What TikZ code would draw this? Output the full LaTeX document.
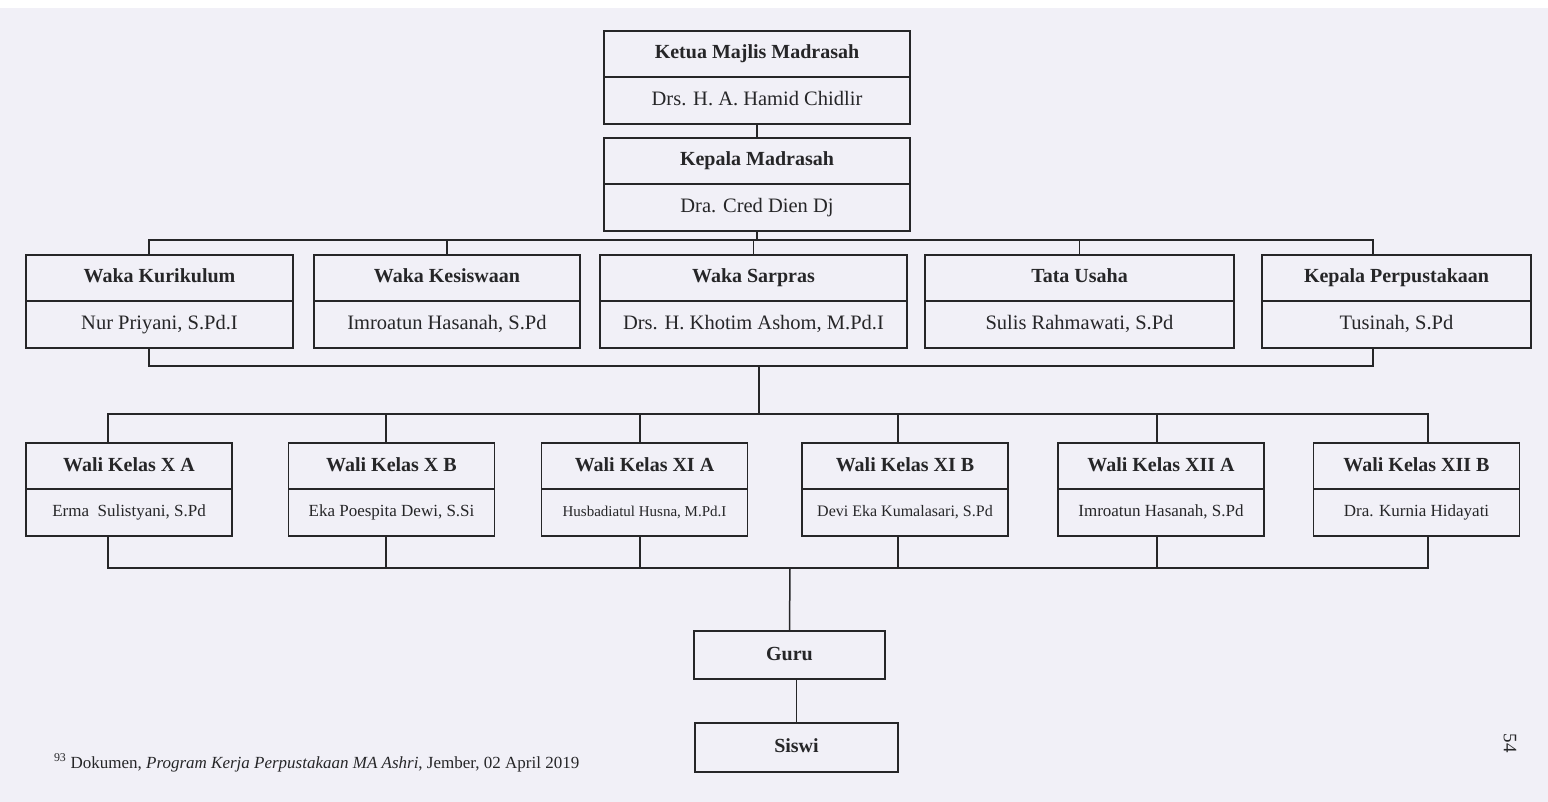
\documentclass[tikz,border=0pt]{standalone}
\usepackage{fontspec}
\setmainfont{Liberation Serif}
\usetikzlibrary{positioning}
\definecolor{paper}{RGB}{241,240,247}
\definecolor{ink}{RGB}{38,38,40}

\begin{document}
\begin{tikzpicture}
      [x=1pt, y=-1pt,
       every node/.style={outer sep=0pt, inner sep=2pt, text=ink},
       head/.style={draw=ink, line width=1.5pt, minimum height=46pt,
                    text height=14pt, text depth=4pt,
                    font=\fontsize{20}{24}\selectfont\bfseries},
       body/.style={draw=ink, line width=1.5pt, minimum height=47pt,
                    text height=14pt, text depth=4pt,
                    font=\fontsize{20.5}{24}\selectfont},
       small/.style={draw=ink, line width=1.5pt, minimum width=206pt,
                    minimum height=47pt, text height=12pt, text depth=3.5pt,
                    font=\fontsize{17}{20}\selectfont},
       link/.style={draw=ink, line width=1.5pt}]
      % page
      \fill[white] (0,0) rectangle (1548,8);
      \fill[paper] (0,8) rectangle (1548,802);
      \useasboundingbox (0,0) rectangle (1548,802);
      % top
      \node[head, minimum width=306pt](ketua) at (757,54) {Ketua Majlis Madrasah};
      \node[body, minimum width=306pt, below=0pt of ketua](ketuan) {Drs. H. A. Hamid Chidlir};
      \node[head, minimum width=306pt](kepala) at (757,161) {Kepala Madrasah};
      \node[body, minimum width=306pt, below=0pt of kepala](kepalan) {Dra. Cred Dien Dj};
      % waka
      \node[head, minimum width=267pt](kur) at (159.5,278) {Waka Kurikulum};
      \node[body, minimum width=267pt, below=0pt of kur](kurn) {Nur Priyani, S.Pd.I};
      \node[head, minimum width=266pt](kes) at (447,278) {Waka Kesiswaan};
      \node[body, minimum width=266pt, below=0pt of kes](kesn) {Imroatun Hasanah, S.Pd};
      \node[head, minimum width=307pt](sar) at (753.5,278) {Waka Sarpras};
      \node[body, minimum width=307pt, below=0pt of sar](sarn) {Drs. H. Khotim Ashom, M.Pd.I};
      \node[head, minimum width=309pt](tu) at (1079.5,278) {Tata Usaha};
      \node[body, minimum width=309pt, below=0pt of tu](tun) {Sulis Rahmawati, S.Pd};
      \node[head, minimum width=269pt](perp) at (1396.5,278) {Kepala Perpustakaan};
      \node[body, minimum width=269pt, below=0pt of perp](perpn) {Tusinah, S.Pd};
      % wali kelas
      \node[head, minimum width=206pt](xa) at (129,466) {Wali Kelas X A};
      \node[small, below=0pt of xa](xan) {Erma\ \ Sulistyani, S.Pd};
      \node[head, minimum width=206pt](xb) at (391.5,466) {Wali Kelas X B};
      \node[small, below=0pt of xb](xbn) {Eka Poespita Dewi, S.Si};
      \node[head, minimum width=206pt](xia) at (644.5,466) {Wali Kelas XI A};
      \node[small, below=0pt of xia](xian) {\fontsize{15}{18}\selectfont Husbadiatul Husna, M.Pd.I};
      \node[head, minimum width=206pt](xib) at (905,466) {Wali Kelas XI B};
      \node[small, below=0pt of xib](xibn) {\fontsize{16}{18}\selectfont Devi Eka Kumalasari, S.Pd};
      \node[head, minimum width=206pt](xiia) at (1161,466) {Wali Kelas XII A};
      \node[small, below=0pt of xiia](xiian) {Imroatun Hasanah, S.Pd};
      \node[head, minimum width=206pt](xiib) at (1416.5,466) {Wali Kelas XII B};
      \node[small, below=0pt of xiib](xiibn) {Dra. Kurnia Hidayati};
      % bottom
      \node[head, minimum width=191pt, minimum height=48pt](guru) at (789.5,655) {Guru};
      \node[head, minimum width=203pt, minimum height=49pt](siswi) at (796.5,747.5) {Siswi};
      \coordinate(bus1) at (757,240);
      \coordinate(bus2) at (759,366);
      \coordinate(bus3) at (759,414);
      \coordinate(bus4) at (790,568);
      \draw[link](ketuan) -- (kepala);
      \draw[link](kepalan.south) -- (bus1);
      \draw[link]([xshift=-10.5pt]kur.north) |- ([xshift=-23.5pt]perp.north |- bus1) -- ([xshift=-23.5pt]perp.north);
      \draw[link](kes.north) -- (kes.north |- bus1);
      \draw[link](sar.north) -- (sar.north |- bus1);
      \draw[link](tu.north) -- (tu.north |- bus1);
      \draw[link]([xshift=-10.5pt]kurn.south) |- ([xshift=-23.5pt]perpn.south |- bus2) -- ([xshift=-23.5pt]perpn.south);
      \draw[link](bus2) -- (bus3);
      \draw[link]([xshift=-21pt]xa.north) |- ([xshift=11.5pt]xiib.north |- bus3) -- ([xshift=11.5pt]xiib.north);
      \draw[link]([xshift=-5.5pt]xb.north) -- ([xshift=-5.5pt]xb.north |- bus3);
      \draw[link]([xshift=-4.5pt]xia.north) -- ([xshift=-4.5pt]xia.north |- bus3);
      \draw[link]([xshift=-7pt]xib.north) -- ([xshift=-7pt]xib.north |- bus3);
      \draw[link]([xshift=-4pt]xiia.north) -- ([xshift=-4pt]xiia.north |- bus3);
      \draw[link]([xshift=-21pt]xan.south) |- ([xshift=11.5pt]xiibn.south |- bus4) -- ([xshift=11.5pt]xiibn.south);
      \draw[link]([xshift=-5.5pt]xbn.south) -- ([xshift=-5.5pt]xbn.south |- bus4);
      \draw[link]([xshift=-4.5pt]xian.south) -- ([xshift=-4.5pt]xian.south |- bus4);
      \draw[link]([xshift=-7pt]xibn.south) -- ([xshift=-7pt]xibn.south |- bus4);
      \draw[link]([xshift=-4pt]xiian.south) -- ([xshift=-4pt]xiian.south |- bus4);
      \draw[link](bus4) -- (guru.north);
      \draw[link](guru.south -| siswi.north) -- (siswi.north);
      % footnote and page number
      \node[anchor=base west, font=\fontsize{17}{20}\selectfont](foot) at (52,768)
        {\textsuperscript{93} Dokumen, \textit{Program Kerja Perpustakaan MA Ashri}, Jember, 02 April 2019};
      \node[rotate=-90, font=\fontsize{19}{21}\selectfont](page) at (1510,743) {54};
  \end{tikzpicture}
\end{document}
